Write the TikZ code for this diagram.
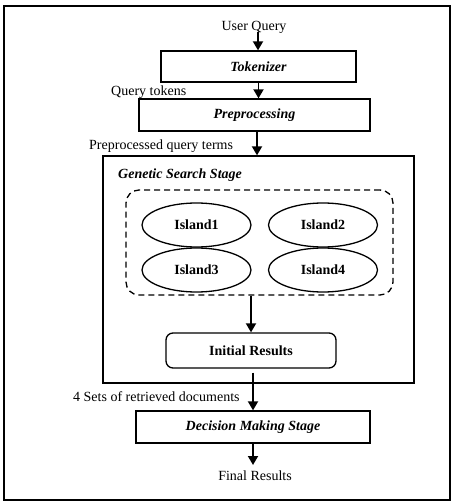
\documentclass[tikz,border=0pt]{standalone}
\usepackage{fontspec}
\setmainfont{Liberation Serif}
\usetikzlibrary{arrows.meta,shapes.geometric,calc}
\begin{document}
\begin{tikzpicture}[x=1pt,y=-1pt,
  font=\fontsize{14}{16}\selectfont,
  boxed/.style={draw,line width=1.3pt,rectangle,inner sep=0pt,font=\fontsize{14}{16}\selectfont\bfseries\itshape},
  island/.style={draw,line width=1.3pt,ellipse,inner sep=0pt,minimum width=109pt,minimum height=44pt,font=\fontsize{14}{16}\selectfont\bfseries},
  lbl/.style={inner sep=0pt},
  flow/.style={line width=1.8pt,-{Triangle[width=10pt,length=9pt]}}]
\useasboundingbox (0,0) rectangle (454,502);
\draw[line width=2pt] (4,6) rectangle (450,500);
% text labels
\node[lbl] (uq) at (254,27) {User Query};
\node[lbl,anchor=west] (qt) at (111,92) {Query tokens};
\node[lbl,anchor=west] (pqt) at (89,146) {Preprocessed query terms};
\node[lbl,anchor=west] (sets) at (73,397) {4 Sets of retrieved documents};
\node[lbl] (fr) at (255,476) {Final Results};
% boxes
\node[boxed,minimum width=195pt,minimum height=31pt] (tok) at (258.5,66.5) {Tokenizer};
\node[boxed,minimum width=231pt,minimum height=32pt] (pre) at (254.5,115) {Preprocessing};
\node[boxed,minimum width=311pt,minimum height=227pt] (gs) at (258.5,269.5) {};
\node[lbl,anchor=west,font=\fontsize{14}{16}\selectfont\bfseries\itshape] (gsl) at (118,175) {Genetic Search Stage};
\node[draw,dashed,dash pattern=on 6pt off 4pt,line width=1.3pt,rounded corners=13pt,minimum width=267pt,minimum height=105pt] (isl) at (259.5,242.5) {};
\node[island] (i1) at (196.5,225) {Island1};
\node[island] (i2) at (323,225) {Island2};
\node[island] (i3) at (196.5,270) {Island3};
\node[island] (i4) at (323,270) {Island4};
\node[draw,line width=1.3pt,rounded corners=7pt,minimum width=170pt,minimum height=35pt,inner sep=0pt,font=\fontsize{14}{16}\selectfont\bfseries] (ir) at (251,350.5) {Initial Results};
\node[boxed,minimum width=234pt,minimum height=32pt] (dm) at (253,427) {Decision Making Stage};
% connector end points
\coordinate (uqa) at (258,32);
\coordinate (fra) at (253,465);
% connectors
\draw[flow] (uqa) -- (uqa |- tok.north);
\draw[flow] (tok.south) -- (tok.south |- pre.north);
\draw[flow] ([xshift=2.5pt]pre.south) -- ([xshift=2.5pt]pre.south |- gs.north);
\draw[flow] (ir.north |- isl.south) -- (ir.north);
\draw[flow] ([yshift=-4pt]dm.north |- ir.south) -- (dm.north);
\draw[flow] (dm.south) -- (fra);
\end{tikzpicture}
\end{document}
